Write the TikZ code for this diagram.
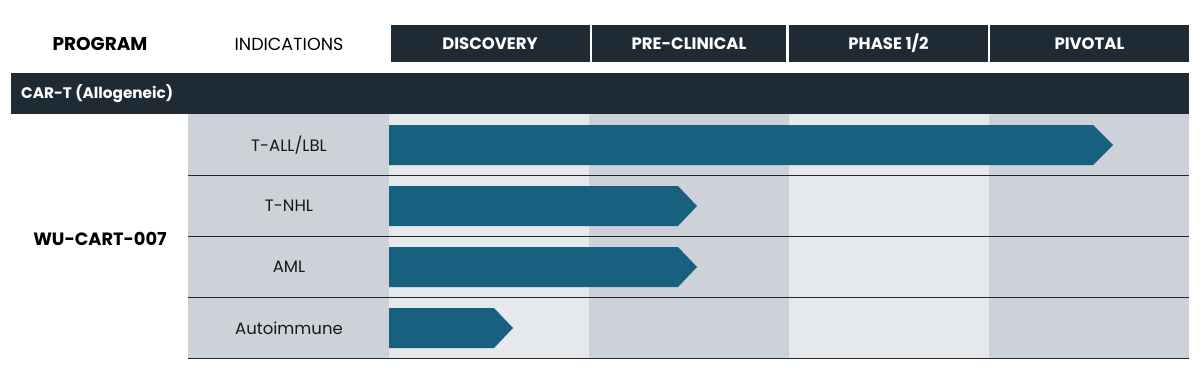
\documentclass[tikz,border=0pt]{standalone}
\usepackage{fontspec}
\setmainfont{Poppins}
\definecolor{navy}{HTML}{1E2B35}
\definecolor{barblue}{HTML}{17607F}
\definecolor{lightcol}{HTML}{E5E9EC}
\definecolor{darkcol}{HTML}{CDD1D8}
\begin{document}
\begin{tikzpicture}[x=1pt,y=-1pt,
  hdr/.style={fill=navy, text=white, font=\fontsize{16.5}{18}\selectfont\bfseries, minimum width=199pt, minimum height=37pt, inner sep=0pt},
  colhead/.style={text=black, inner sep=0pt},
  ind/.style={text=black!90, font=\fontsize{16.5}{18}\selectfont, inner sep=0pt},
  rowline/.style={draw=navy, line width=1.3pt},
  bar/.style={fill=barblue}
]
\useasboundingbox (0,0) rectangle (1201,381);
% column bands
\fill[lightcol] (389,114) rectangle (589,358);
\fill[darkcol] (589,114) rectangle (789,358);
\fill[lightcol] (789,114) rectangle (989,358);
\fill[darkcol] (989,114) rectangle (1189,358);
\fill[darkcol] (188,114) rectangle (389,358);
% header row
\node[colhead, font=\fontsize{18.5}{20}\selectfont\bfseries] (prog) at (100,44) {PROGRAM};
\node[colhead, font=\fontsize{17.5}{19}\selectfont] (indh) at (289,44) {INDICATIONS};
\node[hdr] (disc) at (490,43.5) {DISCOVERY};
\node[hdr, minimum width=194pt] (prec) at (689,43.5) {PRE-CLINICAL};
\node[hdr] (ph12) at (888.5,43.5) {PHASE 1/2};
\node[hdr] (piv) at (1089.5,43.5) {PIVOTAL};
% category bar
\node[fill=navy, minimum width=1178pt, minimum height=41pt, inner sep=0pt, anchor=north west] (cat) at (11,73) {};
\node[text=white, font=\fontsize{15.3}{17}\selectfont\bfseries, anchor=west, inner sep=0pt] (catlbl) at (21,94) {CAR-T (Allogeneic)};
% program name
\node[colhead, font=\fontsize{17.8}{19}\selectfont\bfseries] (wu) at (100,239) {WU-CART-007};
% indications
\node[ind] (i1) at (289,145) {T-ALL/LBL};
\node[ind] (i2) at (289,206) {T-NHL};
\node[ind] (i3) at (289,267) {AML};
\node[ind] (i4) at (289,328) {Autoimmune};
% row lines
\coordinate (l1a) at (188,175.5); \coordinate (l1b) at (1189,175.5);
\coordinate (l2a) at (188,236.5); \coordinate (l2b) at (1189,236.5);
\coordinate (l3a) at (188,297.5); \coordinate (l3b) at (1189,297.5);
\coordinate (l4a) at (188,358.5); \coordinate (l4b) at (1189,358.5);
\draw[rowline] (l1a) -- (l1b);
\draw[rowline] (l2a) -- (l2b);
\draw[rowline] (l3a) -- (l3b);
\draw[rowline] (l4a) -- (l4b);
% progress bars
\fill[bar] (389,125) -- (1093,125) -- (1113,145) -- (1093,165) -- (389,165) -- cycle;
\fill[bar] (389,186) -- (678,186) -- (697,206) -- (678,226) -- (389,226) -- cycle;
\fill[bar] (389,247) -- (678,247) -- (697,267) -- (678,287) -- (389,287) -- cycle;
\fill[bar] (389,308) -- (494,308) -- (513,328) -- (494,348) -- (389,348) -- cycle;
\end{tikzpicture}
\end{document}
